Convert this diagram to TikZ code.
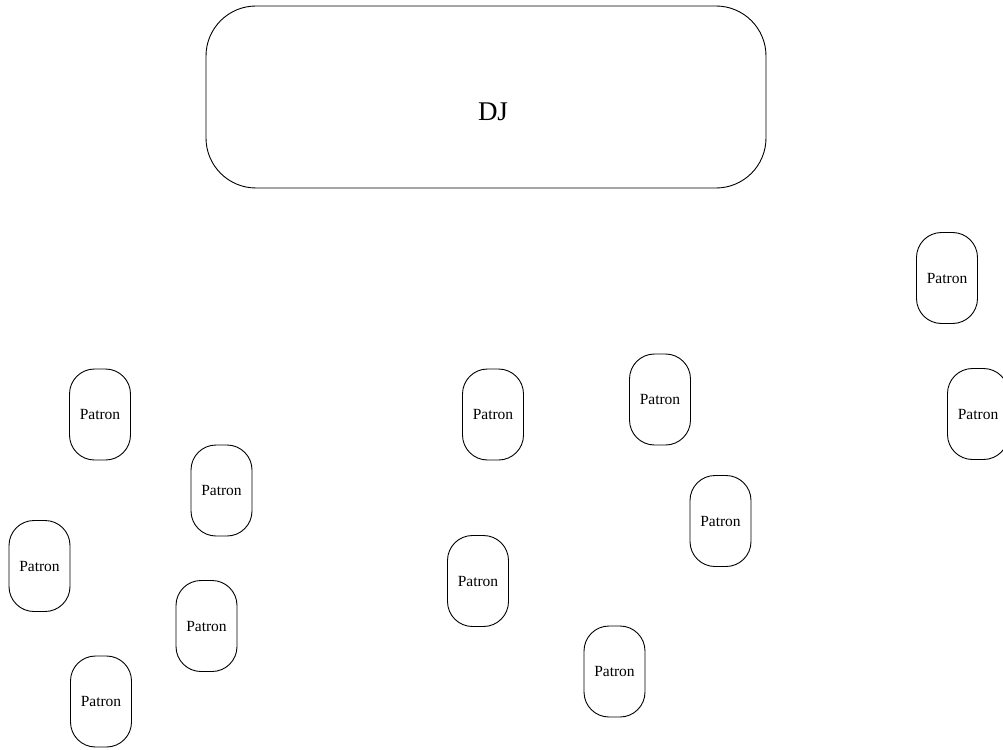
\documentclass[tikz,border=0pt]{standalone}
\usepackage{fontspec}
\setmainfont{Liberation Serif}
\begin{document}
\begin{tikzpicture}[x=1pt,y=-1pt,
  patron/.style={draw, line width=0.9pt, rounded corners=25pt, minimum width=61pt, minimum height=91pt, inner sep=0pt, font=\fontsize{15.5}{18}\selectfont},
  djbox/.style={draw, line width=0.9pt, rounded corners=50pt, minimum width=560pt, minimum height=182pt, inner sep=0pt},
  djtext/.style={font=\fontsize{27}{30}\selectfont, inner sep=0pt}]
\useasboundingbox (0,0) rectangle (1003,749);
\clip (0,0) rectangle (1003,749);
\node[djbox] (dj) at (486,97) {};
\node[djtext] (djlabel) at (493,112) {DJ};
\node[patron] (p1) at (947,278) {Patron};
\node[patron] (p2) at (100,414.5) {Patron};
\node[patron] (p3) at (493,414.5) {Patron};
\node[patron] (p4) at (660,399.5) {Patron};
\node[patron] (p5) at (978,414) {Patron};
\node[patron] (p6) at (221.5,490.5) {Patron};
\node[patron] (p7) at (720.5,521) {Patron};
\node[patron] (p8) at (39.5,566) {Patron};
\node[patron] (p9) at (478,581) {Patron};
\node[patron] (p10) at (206.5,626) {Patron};
\node[patron] (p11) at (101,701.5) {Patron};
\node[patron] (p12) at (614.5,671.5) {Patron};
\end{tikzpicture}
\end{document}
